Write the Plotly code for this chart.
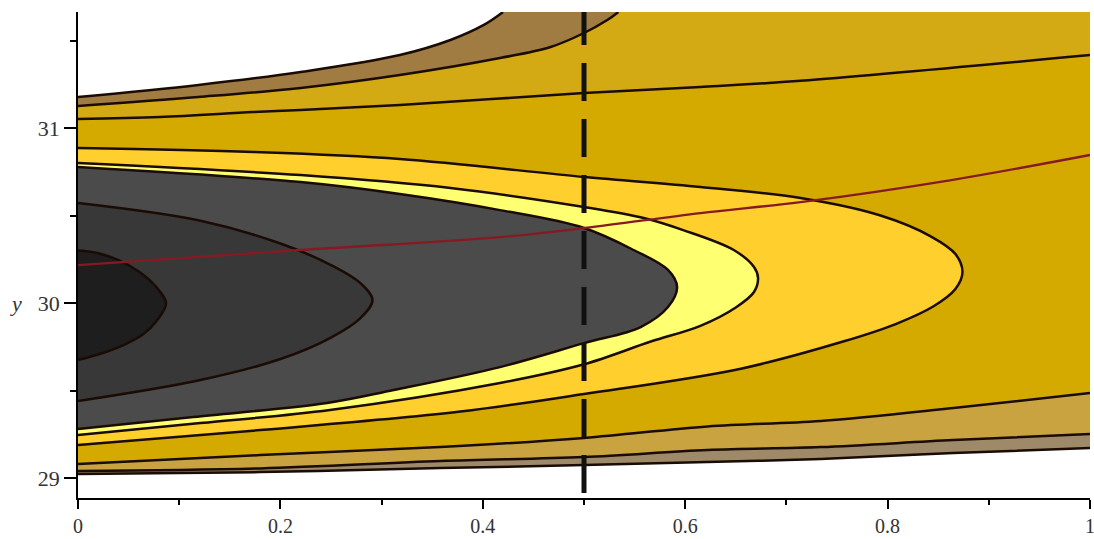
import plotly.graph_objects as go

# axis ranges and ticks
X_RANGE = [0.0, 1.0]
Y_RANGE = [28.886, 31.663]
x_ticks = [0, 0.2, 0.4, 0.6, 0.8, 1]
x_tick_labels = ["0", "0.2", "0.4", "0.6", "0.8", "1"]
y_ticks = [29, 30, 31]
y_tick_labels = ["29", "30", "31"]

cutoff_x = 0.5

# closed contours, traced from x=0 round the tip and back to x=0 (inner -> outer)
level1_x = [0, 0.02, 0.04, 0.06, 0.076, 0.087, 0.078, 0.064, 0.045, 0.022, 0]
level1_y = [30.30, 30.285, 30.245, 30.18, 30.10, 30.0, 29.90, 29.82, 29.76, 29.71, 29.674]

level2_x = [0, 0.121, 0.2, 0.249, 0.279, 0.291, 0.279, 0.249, 0.2, 0.121, 0]
level2_y = [30.571, 30.47, 30.34, 30.22, 30.114, 30.017, 29.914, 29.80, 29.68, 29.56, 29.44]

level3_x = [0, 0.220, 0.318, 0.417, 0.5, 0.549, 0.583, 0.592, 0.583, 0.556, 0.5,
            0.417, 0.312, 0.246, 0.114, 0]
level3_y = [30.777, 30.691, 30.623, 30.531, 30.429, 30.303, 30.189, 30.091, 29.977, 29.863, 29.771,
            29.634, 29.503, 29.429, 29.349, 29.280]

level4_x = [0, 0.220, 0.368, 0.5, 0.559, 0.598, 0.648, 0.668, 0.672, 0.668, 0.650, 0.615,
            0.566, 0.5, 0.417, 0.249, 0.121, 0]
level4_y = [30.800, 30.731, 30.657, 30.549, 30.486, 30.417, 30.303, 30.206, 30.143, 30.063, 29.975, 29.87,
            29.78, 29.65, 29.543, 29.389, 29.314, 29.246]

level5_x = [0, 0.173, 0.318, 0.501, 0.615, 0.714, 0.793, 0.843, 0.867, 0.874, 0.867, 0.845,
            0.808, 0.756, 0.655, 0.5, 0.378, 0.180, 0]
level5_y = [30.886, 30.863, 30.823, 30.72, 30.663, 30.6, 30.5, 30.38, 30.28, 30.177, 30.08, 29.98,
            29.88, 29.78, 29.625, 29.48, 29.38, 29.274, 29.189]

# open contours above the centre
top_a_x = [0, 0.119, 0.220, 0.318, 0.368, 0.401, 0.420]
top_a_y = [31.177, 31.246, 31.320, 31.417, 31.503, 31.589, 31.663]
top_b_x = [0, 0.119, 0.220, 0.318, 0.417, 0.467, 0.5, 0.523, 0.534]
top_b_y = [31.126, 31.177, 31.229, 31.303, 31.400, 31.463, 31.543, 31.617, 31.663]
top_c_x = [0, 0.081, 0.173, 0.220, 0.318, 0.5, 0.615, 0.714, 1.0]
top_c_y = [31.051, 31.063, 31.091, 31.103, 31.131, 31.200, 31.234, 31.27, 31.417]

# open contours below the centre
bot_x = [0, 0.180, 0.358, 0.5, 0.622, 0.734, 0.865, 1.0]
bot_b_y = [29.080, 29.131, 29.177, 29.229, 29.295, 29.326, 29.400, 29.486]
bot_c_y = [29.040, 29.055, 29.097, 29.120, 29.160, 29.177, 29.217, 29.251]
bot_d_y = [29.023, 29.034, 29.057, 29.074, 29.091, 29.109, 29.143, 29.171]

# red curve
red_x = [0, 0.220, 0.417, 0.501, 0.615, 0.714, 0.863, 1.0]
red_y = [30.217, 30.303, 30.377, 30.429, 30.514, 30.577, 30.703, 30.846]

LINE_COLOR = "#1a0c04"
LINE_WIDTH = 2.5
SERIF = "Liberation Serif, Times New Roman, Times, serif"

fig = go.Figure()


def add_fill(xs, ys, color, shape="linear"):
    fig.add_trace(go.Scatter(
        x=xs, y=ys, mode="lines", fill="toself", fillcolor=color,
        line=dict(width=0, shape=shape), hoverinfo="skip", showlegend=False,
    ))


def add_line(xs, ys, color=LINE_COLOR, width=LINE_WIDTH, shape="spline", dash=None):
    fig.add_trace(go.Scatter(
        x=xs, y=ys, mode="lines",
        line=dict(color=color, width=width, shape=shape, dash=dash),
        hoverinfo="skip", showlegend=False,
    ))


# bands between the open contours
add_fill(top_a_x + top_b_x[::-1], top_a_y + top_b_y[::-1], "#a07b42")
add_fill(top_b_x + [1.0] + top_c_x[::-1], top_b_y + [Y_RANGE[1]] + top_c_y[::-1], "#d3a914")
add_fill(top_c_x + bot_x[::-1], top_c_y + bot_b_y[::-1], "#d4aa00")
add_fill(bot_x + bot_x[::-1], bot_b_y + bot_c_y[::-1], "#c8a340")
add_fill(bot_x + bot_x[::-1], bot_c_y + bot_d_y[::-1], "#9e8a68")

# nested closed regions, outer first
add_fill(level5_x, level5_y, "#ffcf2e", "spline")
add_fill(level4_x, level4_y, "#ffff72", "spline")
add_fill(level3_x, level3_y, "#4b4b4b", "spline")
add_fill(level2_x, level2_y, "#383838", "spline")
add_fill(level1_x, level1_y, "#1e1e1e", "spline")

for xs, ys in [(top_a_x, top_a_y), (top_b_x, top_b_y), (top_c_x, top_c_y),
               (bot_x, bot_b_y), (bot_x, bot_c_y), (bot_x, bot_d_y),
               (level5_x, level5_y), (level4_x, level4_y), (level3_x, level3_y),
               (level2_x, level2_y), (level1_x, level1_y)]:
    add_line(xs, ys)

add_line(red_x, red_y, color="#851a22", width=2.3)
add_line([cutoff_x, cutoff_x], [28.914, Y_RANGE[1]], color="#111111", width=5,
         shape="linear", dash="38px,18px")

fig.add_annotation(
    text="<i>y</i>", x=0, xref="paper", y=30, yref="y",
    xanchor="right", xshift=-54, showarrow=False,
    font=dict(family=SERIF, size=22, color="#333333"),
)

y_font = dict(family=SERIF, size=22, color="#333333")
x_font = dict(family=SERIF, size=20, color="#333333")
fig.update_xaxes(
    range=X_RANGE, tickvals=x_ticks, ticktext=x_tick_labels, automargin=False,
    showline=True, linecolor="black", linewidth=1.5, showgrid=False, zeroline=False,
    ticks="outside", ticklen=9, tickwidth=1.5, tickcolor="black", tickfont=x_font,
    ticklabeloverflow="allow",
    minor=dict(dtick=0.1, tick0=0, ticks="outside", ticklen=5, tickcolor="black", tickwidth=1.5),
)
fig.update_yaxes(
    range=Y_RANGE, tickvals=y_ticks, ticktext=y_tick_labels, automargin=False,
    showline=True, linecolor="black", linewidth=1.5, showgrid=False, zeroline=False,
    ticks="outside", ticklen=12, tickwidth=1.5, tickcolor="black", tickfont=y_font,
    minor=dict(dtick=0.5, tick0=29, ticks="outside", ticklen=6, tickcolor="black", tickwidth=1.5),
)
fig.update_layout(
    width=1094, height=539, autosize=False,
    margin=dict(l=78, r=4, t=12, b=41),
    plot_bgcolor="white", paper_bgcolor="white",
)

fig.write_html("out.html", config={"displayModeBar": False},
               post_script="document.body.style.margin='0px';")
